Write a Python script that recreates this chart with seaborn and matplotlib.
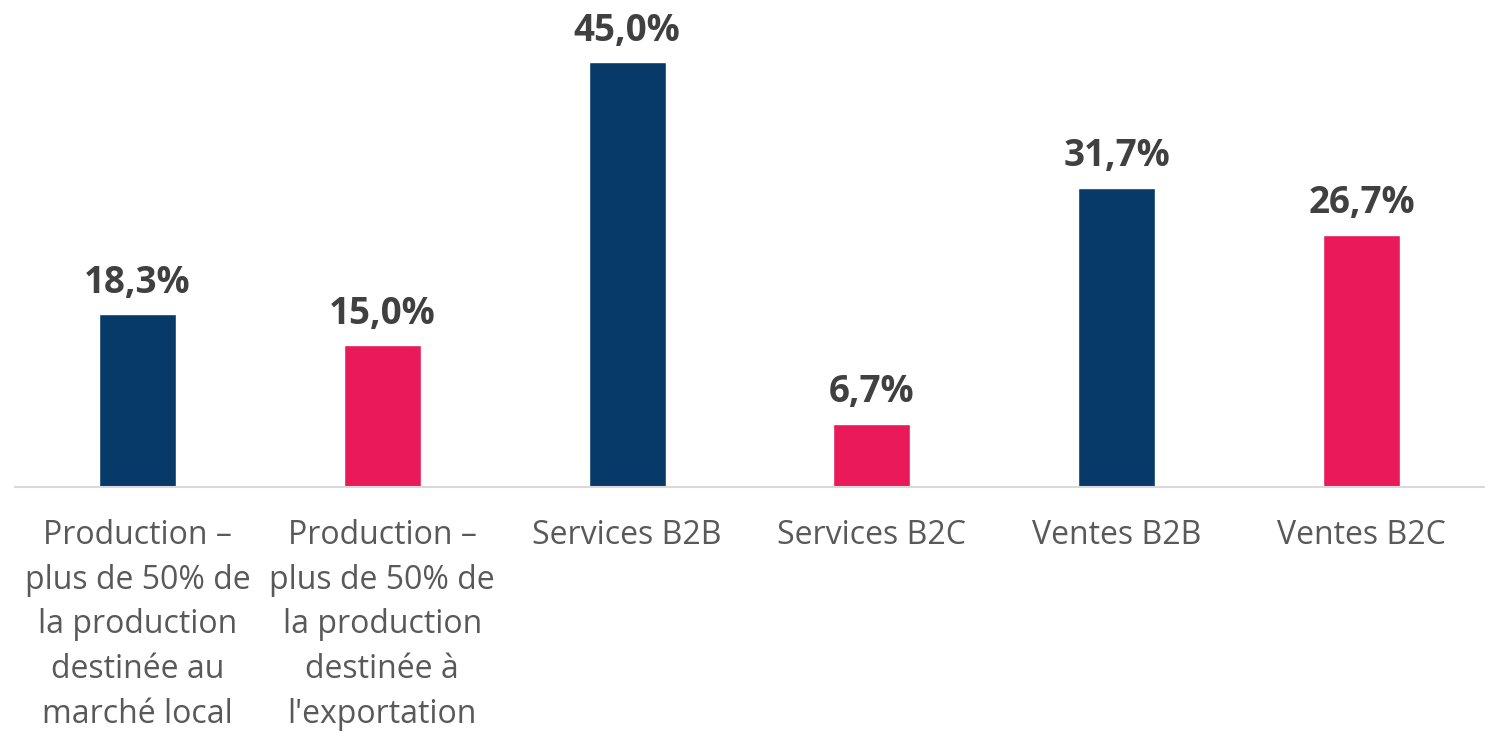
import matplotlib
matplotlib.use("Agg")
import matplotlib.pyplot as plt
import seaborn as sns
import pandas as pd

categories = [
    "Production –\nplus de 50% de\nla production\ndestinée au\nmarché local",
    "Production –\nplus de 50% de\nla production\ndestinée à\nl'exportation",
    "Services B2B",
    "Services B2C",
    "Ventes B2B",
    "Ventes B2C",
]
values = [18.3, 15.0, 45.0, 6.7, 31.7, 26.7]
bar_colors = ["#073A68", "#EA1A5A", "#073A68", "#EA1A5A", "#073A68", "#EA1A5A"]

sns.set_theme(style="white")
plt.rcParams["font.family"] = ["Open Sans", "DejaVu Sans"]

df = pd.DataFrame({"cat": categories, "val": values})

fig = plt.figure(figsize=(14.89, 7.37), dpi=100)
ax = fig.add_axes([15 / 1489, 250 / 737, 1469 / 1489, 472 / 737])

sns.barplot(data=df, x="cat", y="val", hue="cat", palette=bar_colors,
            width=0.315, legend=False, ax=ax, saturation=1)

ax.set_ylim(0, 50)
ax.set_xlim(-0.5, len(categories) - 0.5)

# value labels above bars
for i, v in enumerate(values):
    ax.annotate(f"{v:.1f}%".replace(".", ","), (i, v), xytext=(0, 9),
                textcoords="offset points", ha="center", va="bottom",
                fontsize=26.5, fontweight="bold", color="#404040")

ax.set_xlabel("")
ax.set_ylabel("")
ax.set_yticks([])
ax.tick_params(axis="x", length=0, pad=23, labelsize=23, labelcolor="#595959")
ax.set_xticks(range(len(categories)))
ax.set_xticklabels(categories, linespacing=1.47, va="top")

for s in ["top", "left", "right"]:
    ax.spines[s].set_visible(False)
ax.spines["bottom"].set_color("#D9D9D9")
ax.spines["bottom"].set_linewidth(1.5)

fig.savefig("out.png", dpi=100, facecolor="white")
